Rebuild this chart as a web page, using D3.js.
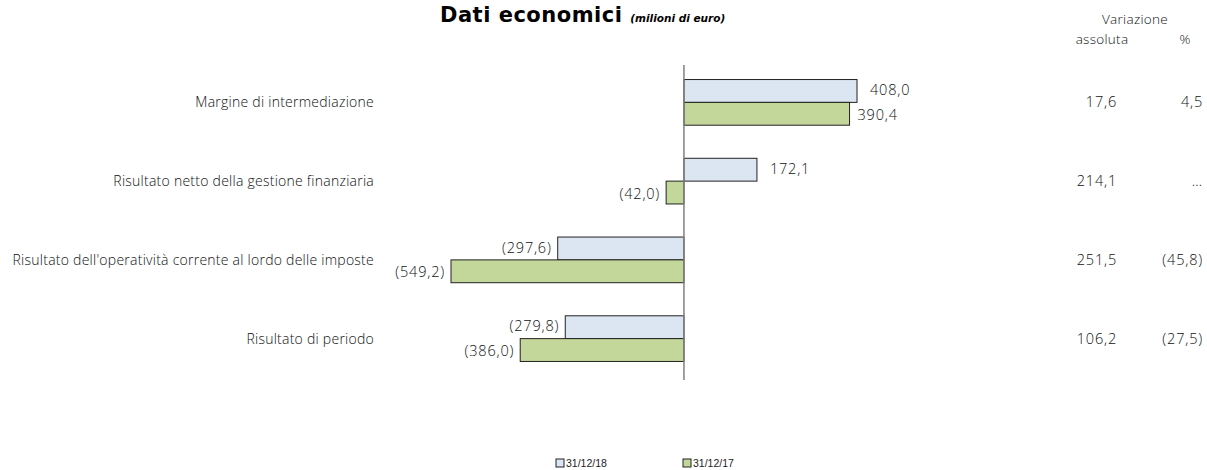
<!DOCTYPE html>
<html><head><meta charset="utf-8">
<script src="https://cdn.jsdelivr.net/npm/d3@7"></script>
<style>body{margin:0;background:#fff}svg{display:block}</style>
</head><body>
<svg id="c" width="1207" height="470"></svg>
<script>
const categories = ["Margine di intermediazione","Risultato netto della gestione finanziaria","Risultato dell'operatività corrente al lordo delle imposte","Risultato di periodo"];
const series = ["31/12/18","31/12/17"];
const values2018 = [408.0, 172.1, -297.6, -279.8];
const values2017 = [390.4, -42.0, -549.2, -386.0];
const varAssoluta = ["17,6","214,1","251,5","106,2"];
const varPercent = ["4,5","…","(45,8)","(27,5)"];
const colors = ["#dce6f2","#c4d79b"];

const svg = d3.select("#c");
const font = "'Open Sans', Lato, sans-serif";
const fw = 300;
const txtCol = "#111";
const fmt = v => { const s = Math.abs(v).toFixed(1).replace(".", ","); return v < 0 ? "(" + s + ")" : s; };

const x = d3.scaleLinear().domain([-549.2, 408]).range([451, 857]);
const y = d3.scaleBand().domain(categories).range([63, 378]).paddingInner(0.42).paddingOuter(0.21);
const ys = d3.scaleBand().domain(series).range([0, y.bandwidth()]);

// title
const t = svg.append("text").attr("x", 440).attr("y", 22).attr("font-family", "'DejaVu Sans', sans-serif").attr("fill","#000");
t.append("tspan").attr("font-size", 21).attr("font-weight", "bold").attr("letter-spacing", 0.5).text("Dati economici ");
t.append("tspan").attr("font-size", 10.5).attr("font-weight", "bold").attr("font-style", "italic").text("(milioni di euro)");

// headers
const hdr = (xx, yy, s) => svg.append("text").attr("x", xx).attr("y", yy).attr("text-anchor","middle")
  .attr("font-family",font).attr("font-weight",fw).attr("font-size",13.5).attr("letter-spacing",0.3).attr("fill",txtCol).text(s);
hdr(1135, 24, "Variazione");
hdr(1102, 44, "assoluta");
hdr(1185, 44, "%");

const data = [];
categories.forEach((c, i) => {
  data.push({c, s: series[0], v: values2018[i], col: colors[0]});
  data.push({c, s: series[1], v: values2017[i], col: colors[1]});
});

svg.selectAll("rect.bar").data(data).join("rect").attr("class","bar")
  .attr("x", d => x(Math.min(0, d.v)))
  .attr("width", d => Math.abs(x(d.v) - x(0)))
  .attr("y", d => y(d.c) + ys(d.s))
  .attr("height", ys.bandwidth())
  .attr("fill", d => d.col).attr("stroke", "#222").attr("stroke-width", 1);

svg.selectAll("text.val").data(data).join("text").attr("class","val")
  .attr("x", d => d.v >= 0 ? x(d.v) + (d.s === series[0] ? 13 : 8) : x(d.v) - 6)
  .attr("y", d => y(d.c) + ys(d.s) + ys.bandwidth()/2 + (d.s === series[0] ? -1 : 1))
  .attr("dy", "0.35em")
  .attr("text-anchor", d => d.v >= 0 ? "start" : "end")
  .attr("font-family", font).attr("font-weight",fw).attr("font-size", 14.5).attr("letter-spacing",0.8).attr("fill", txtCol)
  .text(d => fmt(d.v));

// axis line
svg.append("line").attr("x1", x(0)).attr("x2", x(0)).attr("y1", 65).attr("y2", 380).attr("stroke","#808080").attr("stroke-width",1.5);

// category labels
svg.selectAll("text.cat").data(categories).join("text").attr("class","cat")
  .attr("x", 374).attr("y", d => y(d) + y.bandwidth()/2).attr("dy","0.35em")
  .attr("text-anchor","end").attr("font-family",font).attr("font-weight",fw).attr("font-size",14).attr("letter-spacing",0.25).attr("fill",txtCol).text(d => d);

svg.selectAll("text.va").data(categories).join("text").attr("class","va")
  .attr("x", 1117).attr("y", d => y(d) + y.bandwidth()/2).attr("dy","0.35em")
  .attr("text-anchor","end").attr("font-family",font).attr("font-weight",fw).attr("font-size",14.5).attr("letter-spacing",0.8).attr("fill",txtCol).text((d,i) => varAssoluta[i]);
svg.selectAll("text.vp").data(categories).join("text").attr("class","vp")
  .attr("x", 1203).attr("y", d => y(d) + y.bandwidth()/2).attr("dy","0.35em")
  .attr("text-anchor","end").attr("font-family",font).attr("font-weight",fw).attr("font-size",14.5).attr("letter-spacing",0.8).attr("fill",txtCol).text((d,i) => varPercent[i]);

// legend
const lg = svg.selectAll("g.lg").data(series).join("g").attr("class","lg")
  .attr("transform", (d,i) => `translate(${556 + i*127},459)`);
lg.append("rect").attr("width",8).attr("height",8).attr("fill",(d,i)=>colors[i]).attr("stroke","#222").attr("stroke-width",1);
lg.append("text").attr("x",10).attr("y",4).attr("dy","0.35em").attr("font-family","'Liberation Sans', sans-serif").attr("font-size",10.5).attr("fill","#222").text(d=>d);
</script>
</body></html>
